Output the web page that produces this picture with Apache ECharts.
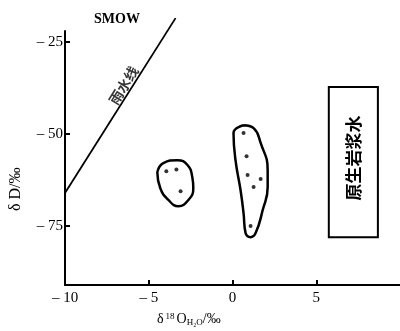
<!DOCTYPE html>
<html><head><meta charset="utf-8">
<script src="https://cdn.jsdelivr.net/npm/echarts@6/dist/echarts.min.js"></script>
<style>html,body{margin:0;padding:0;background:#fff}#c{width:400px;height:331px}</style>
</head><body><div id="c"></div>
<script>
const xTicks = [-10, -5, 0, 5];
const yTicks = [-75, -50, -25];
const meteoricLine = [[-10, -66], [-3.4, -18.5]];
const groupA = [[-3.95, -60.1], [-3.35, -59.6], [-3.1, -65.5]];
const groupB = [[0.66, -49.7], [0.84, -56.0], [0.9, -61.1], [1.68, -62.2], [1.26, -64.4], [1.08, -75.0]];
const outlineA = [[-4.49,-60.3],[-4.13,-57.9],[-3.29,-57.1],[-2.69,-58.4],[-2.40,-61.7],[-2.34,-64.7],[-2.63,-67.9],[-3.23,-69.6],[-3.83,-67.9],[-4.31,-64.7],[-4.49,-60.3]];
const outlineB = [[0.66,-47.6],[1.26,-48.4],[1.68,-52.4],[2.10,-59.8],[2.10,-64.4],[1.80,-70.7],[1.38,-76.9],[1.08,-78.0],[0.78,-76.9],[0.66,-71.5],[0.48,-65.2],[0.18,-57.1],[0.06,-49.7],[0.66,-47.6]];
const magmaBox = [[5.75, -37.2], [8.68, -78]];
const magmaLabel = '原生岩浆水';
const lineLabel = [[-6.5, -36.8]];
const lineLabelText = '雨水线';

const serif = '"Liberation Serif", "DejaVu Serif", serif';
const cjk = '"Noto Sans CJK SC", sans-serif';
const fmt = v => v < 0 ? '– ' + Math.abs(v) : String(v);

const chart = echarts.init(document.getElementById('c'));
chart.setOption({
  animation: false,
  grid: { left: 65, right: 0, top: 31, bottom: 46 },
  xAxis: {
    type: 'value', min: -10, max: 10, interval: 5,
    splitLine: { show: false },
    axisLine: { onZero: false, lineStyle: { color: '#000', width: 2 } },
    axisTick: { inside: true, length: 5, lineStyle: { color: '#000', width: 2 }, customValues: [-5, 0, 5] },
    axisLabel: { customValues: xTicks, formatter: fmt, color: '#000', fontFamily: serif, fontSize: 15, margin: 6 }
  },
  yAxis: {
    type: 'value', min: -91, max: -22,
    splitLine: { show: false },
    axisLine: { onZero: false, lineStyle: { color: '#000', width: 2 } },
    axisTick: { inside: true, length: 5, lineStyle: { color: '#000', width: 2 }, customValues: yTicks },
    axisLabel: { customValues: yTicks, formatter: fmt, color: '#000', fontFamily: serif, fontSize: 15, margin: 2 }
  },
  graphic: [
    { type: 'text', left: 94, top: 12, style: { text: 'SMOW', font: 'bold 14px ' + serif, fill: '#000' } },
    { type: 'text', x: 8, y: 211, rotation: Math.PI / 2, style: { text: 'δ D/‰', font: '16px ' + serif, fill: '#000' } },
    { type: 'text', x: 157, y: 312, style: {
        text: 'δ{sup|18}O{sub|H₂O}/‰',
        font: '14px ' + serif, fill: '#000',
        rich: { sup: { fontSize: 9, verticalAlign: 'top', padding: [0, 2, 6, 2], fontFamily: serif },
                sub: { fontSize: 9, padding: [6, 0, 0, 0], fontFamily: serif } }
    } }
  ],
  series: [
    { type: 'line', data: meteoricLine, symbol: 'none', clip: false,
      lineStyle: { color: '#000', width: 1.8 } },
    { type: 'line', data: outlineA, smooth: 0.5, symbol: 'none',
      lineStyle: { color: '#000', width: 2.5 } },
    { type: 'line', data: outlineB, smooth: 0.5, symbol: 'none',
      lineStyle: { color: '#000', width: 2.5 } },
    { type: 'scatter', data: groupA.concat(groupB), symbolSize: 4, itemStyle: { color: '#000' } },
    { type: 'scatter', data: lineLabel, symbolSize: 0, clip: false,
      label: { show: true, formatter: lineLabelText, rotate: 58, position: 'inside',
               fontFamily: cjk, fontSize: 14, fontWeight: 'bold', color: '#000' } },
    { type: 'scatter', data: [], symbolSize: 0,
      markArea: { silent: true,
        itemStyle: { color: 'rgba(0,0,0,0)', borderColor: '#000', borderWidth: 2 },
        label: { show: true, position: 'inside', rotate: 90, offset: [4, 0], formatter: magmaLabel,
                 fontFamily: cjk, fontSize: 17, fontWeight: 'bold', color: '#000' },
        data: [[{ coord: magmaBox[0] }, { coord: magmaBox[1] }]] } }
  ]
});
</script></body></html>
